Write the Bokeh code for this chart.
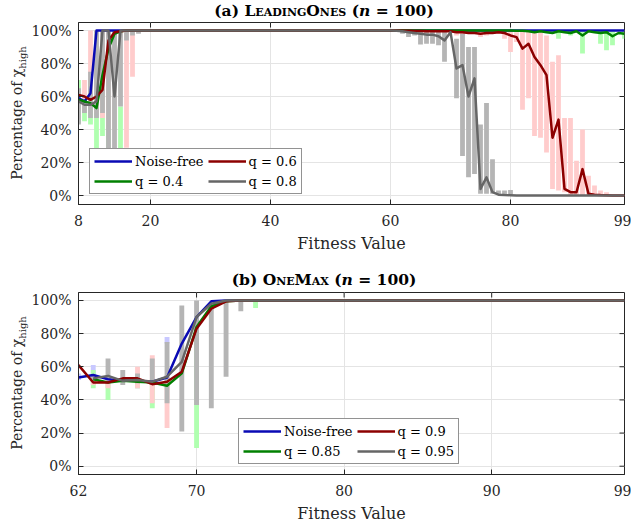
from bokeh.plotting import figure
from bokeh.models import (Range1d, FixedTicker, PrintfTickFormatter, Div, ColumnDataSource)
from bokeh.layouts import column, row
from bokeh.embed import file_html
from bokeh.resources import INLINE

NaN = float("nan")

# ---------------- (a) LeadingOnes (n = 100) ----------------
a_x = list(range(8, 100))
a_xticks = [8, 20, 40, 60, 80, 99]

a_noise_free = [
    59, 57, 62, 100, 100, 100, 100, 100, 100, 100,        # 8-17
    100, 100, 100, 100, 100, 100, 100, 100, 100, 100,     # 18-27
    100, 100, 100, 100, 100, 100, 100, 100, 100, 100,     # 28-37
    100, 100, 100, 100, 100, 100, 100, 100, 100, 100,     # 38-47
    100, 100, 100, 100, 100, 100, 100, 100, 100, 100,     # 48-57
    100, 100, 100, 100, 100, 100, 100, 100, 100, 100,     # 58-67
    100, 100, 100, 100, 100, 100, 100, 100, 100, 100,     # 68-77
    100, 100, 100, 100, 100, 100, 100, 100, 100, 100,     # 78-87
    100, 100, 100, 100, 100, 100, 100, 100, 100, 100,     # 88-97
    100, 100,                                             # 98-99
]
a_q04 = [
    58, 57, 56, 53, 73, 89, 98, 99.5, 100, 100,
    100, 100, 100, 100, 100, 100, 100, 100, 100, 100,
    100, 100, 100, 100, 100, 100, 100, 100, 100, 100,
    100, 100, 100, 100, 100, 100, 100, 100, 100, 100,
    100, 100, 100, 100, 100, 100, 100, 100, 100, 100,
    100, 100, 100, 100, 100, 100, 100, 100, 100, 100,
    100, 100, 100, 100, 100, 100, 100, 100, 100, 100,
    100, 100, 100, 99.8, 99.8, 99.5, 99, 99.5, 99, 98.5,
    99.5, 99, 98.5, 99.5, 97, 99.5, 99, 98.5, 99, 96.5,
    98.5, 98,
]
a_q06 = [
    61, 60, 58, 60, 64, 94, 99, 99.5, 100, 100,
    100, 100, 100, 100, 100, 100, 100, 100, 100, 100,
    100, 100, 100, 100, 100, 100, 100, 100, 100, 100,
    100, 100, 100, 100, 100, 100, 100, 100, 100, 100,
    100, 100, 100, 100, 100, 100, 100, 100, 100, 100,
    100, 100, 100, 100, 99.8, 99.8, 99.7, 99.7, 99.6, 99.6,
    99.5, 99.5, 99.5, 99, 99, 98.5, 98.5, 98, 98.5, 98.5,
    99, 98.5, 97, 96, 89, 92, 84, 79, 73, 35,
    46, 4, 2, 2, 16, 1, 0.5, 0.3, 0.2, 0,
    0, 0,
]
a_q08 = [
    57, 55, 55, 57, 100, 100, 60, 100, 100, 100,
    100, 100, 100, 100, 100, 100, 100, 100, 100, 100,
    100, 100, 100, 100, 100, 100, 100, 100, 100, 100,
    100, 100, 100, 100, 100, 100, 100, 100, 100, 100,
    100, 100, 100, 100, 100, 100, 100, 100, 100, 100,
    100, 100, 100, 99.8, 99.5, 99, 98.5, 98, 97.5, 97.5,
    96.5, 94, 99, 77, 79, 60, 71, 4, 11, 2,
    0.5, 0.3, 0.2, 0, 0, 0, 0, 0, 0, 0,
    0, 0, 0, 0, 0, 0, 0, 0, 0, 0,
    0, 0,
]

# spread bars (low / high) of each series, panel (a)
a_bar_nf_x = [8, 9, 10]
a_bar_nf_lo = [55, 52, 56]
a_bar_nf_hi = [62, 60, 66]

a_bar_q04_x = [8, 9, 10, 11, 12, 13, 15, 88, 90, 92, 95, 96, 97, 99]
a_bar_q04_lo = [44, 45, 43, 27, 36, 15, 15, 95, 97, 86, 92, 88, 91, 95]
a_bar_q04_hi = [70, 62, 72, 62, 85, 61, 54, 100, 100, 100, 100, 100, 100, 100]

a_bar_q06_x = [8, 9, 10, 11, 12, 13, 14, 16, 17, 71, 72, 75, 76,
               79, 80, 81, 82, 83, 84, 85, 86, 87, 88, 89, 90, 91, 92, 93, 94, 95, 96]
a_bar_q06_lo = [58, 52, 60, 50, 47, 40, 40, 29, 72, 97, 97, 96, 97,
                95, 87, 93, 52, 59, 36, 35, 26, 4, 3, 2, 0, 0, 0, 0, 0, 0, 0]
a_bar_q06_hi = [64, 70, 100, 100, 100, 100, 100, 100, 100, 100, 100, 100, 100,
                100, 100, 99, 100, 100, 99, 99, 97, 81, 85, 47, 47, 21, 40, 12, 6, 3, 2]

a_bar_q08_x = [8, 9, 10, 11, 12, 13, 14, 15, 16, 17, 18,
               62, 63, 64, 65, 66, 67, 68, 69,
               71, 72, 73, 74, 75, 76, 77, 78, 79, 80]
a_bar_q08_lo = [43, 50, 47, 47, 50, 20, 20, 54, 94, 97, 98,
                98, 96, 97, 91.5, 92, 92, 91, 81,
                59, 24, 11, 13, 1, 1, 1, 0.5, 0.5, 0.5]
a_bar_q08_hi = [65, 58, 75, 100, 100, 100, 100, 100, 100, 100, 100,
                100, 100, 100, 100, 100, 100, 100, 100,
                95, 98, 90, 90, 43, 56, 22, 3, 3, 3.4]

# ---------------- (b) OneMax (n = 100) ----------------
b_x = list(range(62, 100))
b_xticks = [62, 70, 80, 90, 99]

b_noise_free = [
    53.5, 55, 52.5, 51.5, 51.5, 51, 53.5, 74, 90, 99.5,   # 62-71
    100, 100, 100, 100, 100, 100, 100, 100, 100, 100,     # 72-81
    100, 100, 100, 100, 100, 100, 100, 100, 100, 100,     # 82-91
    100, 100, 100, 100, 100, 100, 100, 100,               # 92-99
]
b_q085 = [
    NaN, 52.5, 50.5, 51.5, 51, 50.5, 48.5, 56, 84, 96.5,
    99.5, 100, 100, 100, 100, 100, 100, 100, 100, 100,
    100, 100, 100, 100, 100, 100, 100, 100, 100, 100,
    100, 100, 100, 100, 100, 100, 100, 100,
]
b_q09 = [
    61, 50.5, 50.5, 53, 53, 49.5, 51, 57, 83, 95,
    99.5, 100, 100, 100, 100, 100, 100, 100, 100, 100,
    100, 100, 100, 100, 100, 100, 100, 100, 100, 100,
    100, 100, 100, 100, 100, 100, 100, 100,
]
b_q095 = [
    NaN, 53, 54.5, 51.5, 52, 51, 54, 63, 90, 98,
    100, 100, 100, 100, 100, 100, 100, 100, 100, 100,
    100, 100, 100, 100, 100, 100, 100, 100, 100, 100,
    100, 100, 100, 100, 100, 100, 100, 100,
]

b_bar_nf_x = [62, 63, 66, 68]
b_bar_nf_lo = [52, 55, 47, 74]
b_bar_nf_hi = [56, 61, 52, 78]

b_bar_q085_x = [63, 64, 66, 67, 70, 74]
b_bar_q085_lo = [47, 40, 47, 35, 11, 95.5]
b_bar_q085_hi = [58, 50, 51, 50, 90, 100]

b_bar_q09_x = [63, 64, 66, 67, 68]
b_bar_q09_lo = [49, 47, 47, 38, 23]
b_bar_q09_hi = [53, 53, 60, 67, 55]

b_bar_q095_x = [63, 64, 65, 66, 67, 68, 69, 70, 71, 72, 73, 76, 79]
b_bar_q095_lo = [51, 52, 49, 50, 49, 38, 21, 37, 35, 54, 93.5, 99, 99.5]
b_bar_q095_hi = [55, 65, 58, 56, 65, 75, 97, 100, 96, 100, 100, 100, 100]

y_ticks = [0, 20, 40, 60, 80, 100]

# ---------------- styling ----------------
FONT = "DejaVu Serif"
AX = "#262626"
GRID = "#e4e4e4"
LINE_COLORS = ["#0a0ab4", "#008000", "#8c0000", "#666666"]
BAR_COLORS = ["#c8c8ff", "#b0ffb0", "#ffcccc", "#b5b5b5"]
TOTAL_W = 631
YLAB_W = 28
FIG_W = TOTAL_W - YLAB_W
BORDER_L, BORDER_R, BORDER_T = 48, 7, 1
TICK_PX = 5


def make_panel(height, xr, yr, xticks, min_bottom):
    p = figure(width=FIG_W, height=height, output_backend="svg", toolbar_location=None,
               x_range=Range1d(*xr), y_range=Range1d(*yr),
               min_border_left=BORDER_L, min_border_right=BORDER_R,
               min_border_top=BORDER_T, min_border_bottom=min_bottom,
               background_fill_color="white", border_fill_color="white")
    p.outline_line_color = AX
    p.outline_line_width = 1
    p.xaxis.ticker = FixedTicker(ticks=xticks)
    p.yaxis.ticker = FixedTicker(ticks=y_ticks)
    p.yaxis.formatter = PrintfTickFormatter(format="%d%%")
    for ax in (p.xaxis[0], p.yaxis[0]):
        ax.axis_line_color = AX
        ax.major_tick_line_color = AX
        ax.major_tick_in = TICK_PX
        ax.major_tick_out = 0
        ax.minor_tick_in = 0
        ax.minor_tick_out = 0
        ax.major_label_text_font = FONT
        ax.major_label_text_font_size = "14px"
        ax.major_label_text_color = AX
    p.xaxis.major_label_standoff = 10
    p.yaxis.major_label_standoff = 7
    p.xaxis.axis_label = "Fitness Value"
    p.xaxis.axis_label_text_font = FONT
    p.xaxis.axis_label_text_font_size = "16px"
    p.xaxis.axis_label_text_font_style = "normal"
    p.xaxis.axis_label_text_color = AX
    p.xaxis.axis_label_standoff = 5
    p.xgrid.grid_line_color = GRID
    p.ygrid.grid_line_color = GRID
    p.xgrid.grid_line_width = 1
    p.ygrid.grid_line_width = 1

    # inward tick marks on the top and right edges of the box (derived from the tick lists)
    frame_w = FIG_W - BORDER_L - BORDER_R
    frame_h = height - BORDER_T - min_bottom
    dx = TICK_PX * (xr[1] - xr[0]) / frame_w
    dy = TICK_PX * (yr[1] - yr[0]) / frame_h
    inner_x = [t for t in xticks if xr[0] < t < xr[1]]
    p.segment(x0=inner_x, y0=[yr[1]] * len(inner_x), x1=inner_x,
              y1=[yr[1] - dy] * len(inner_x), line_color=AX, line_width=1)
    p.segment(x0=[xr[1]] * len(y_ticks), y0=y_ticks, x1=[xr[1] - dx] * len(y_ticks),
              y1=y_ticks, line_color=AX, line_width=1)
    return p


def draw(p, x, series, labels, bars, bar_w, lw):
    for (bx, lo, hi), col in zip(bars, BAR_COLORS):
        src = ColumnDataSource(dict(x=bx, lo=lo, hi=hi))
        p.vbar(x="x", bottom="lo", top="hi", width=bar_w, source=src,
               fill_color=col, line_color=None)
    for ys, lab, col in zip(series, labels, LINE_COLORS):
        src = ColumnDataSource(dict(x=x, y=ys))
        p.line("x", "y", source=src, line_color=col, line_width=lw,
               line_join="round", legend_label=lab)
    leg = p.legend[0]
    leg.ncols = 2
    leg.border_line_color = AX
    leg.border_line_width = 1
    leg.background_fill_color = "white"
    leg.background_fill_alpha = 1
    leg.label_text_font = FONT
    leg.label_text_font_size = "13px"
    leg.label_text_color = "#000000"
    leg.glyph_width = 38
    leg.glyph_height = 16
    leg.label_height = 16
    leg.label_standoff = 3
    leg.spacing = 4
    leg.padding = 4
    leg.margin = 0
    return leg


def title_div(html, height):
    style = ("font-family:'DejaVu Serif';font-weight:bold;font-size:15.5px;"
             "line-height:%dpx;text-align:center;width:%dpx;padding-left:17px;"
             "box-sizing:border-box;color:#000;white-space:nowrap;" % (height, TOTAL_W))
    return Div(text='<div style="%s">%s</div>' % (style, html),
               width=TOTAL_W, height=height, margin=0)


def ylabel_div(height, pad_left):
    inner = ("position:absolute;left:0;top:0;width:%dpx;height:%dpx;"
             "transform-origin:0 0;transform:translate(0px,%dpx) rotate(-90deg);"
             "box-sizing:border-box;padding-left:%dpx;padding-right:1px;"
             "text-align:center;white-space:nowrap;line-height:34px;"
             "font-family:'DejaVu Serif';font-size:14px;color:%s;"
             % (height, YLAB_W, height, pad_left, AX))
    html = ('<div style="position:relative;width:%dpx;height:%dpx;">'
            '<div style="%s">Percentage of χ<sub style="font-size:10px;line-height:0;">high</sub>'
            '</div></div>' % (YLAB_W, height, inner))
    return Div(text=html, width=YLAB_W, height=height, margin=0)


# panel (a)
HA = 247
pa = make_panel(HA, (8, 99), (-5.45, 104.85), a_xticks, 64)
leg_a = draw(pa, a_x, [a_noise_free, a_q04, a_q06, a_q08],
             ["Noise-free", "q = 0.4", "q = 0.6", "q = 0.8"],
             [(a_bar_nf_x, a_bar_nf_lo, a_bar_nf_hi),
              (a_bar_q04_x, a_bar_q04_lo, a_bar_q04_hi),
              (a_bar_q06_x, a_bar_q06_lo, a_bar_q06_hi),
              (a_bar_q08_x, a_bar_q08_lo, a_bar_q08_hi)], 0.8, 2.5)
leg_a.location = (11, 10)

# panel (b)
HB = 238
pb = make_panel(HB, (62, 99), (-5.0, 104.8), b_xticks, 55)
leg_b = draw(pb, b_x, [b_noise_free, b_q085, b_q09, b_q095],
             ["Noise-free", "q = 0.85", "q = 0.9", "q = 0.95"],
             [(b_bar_nf_x, b_bar_nf_lo, b_bar_nf_hi),
              (b_bar_q085_x, b_bar_q085_lo, b_bar_q085_hi),
              (b_bar_q09_x, b_bar_q09_lo, b_bar_q09_hi),
              (b_bar_q095_x, b_bar_q095_lo, b_bar_q095_hi)], 0.33, 2.5)
leg_b.location = (160, 10)

ta = title_div('(a) <span style="font-variant:small-caps">LeadingOnes</span> (<i>n</i> = 100)', 21)
tb = title_div('(b) <span style="font-variant:small-caps">OneMax</span> (<i>n</i> = 100)', 23)

layout = column(ta, row(ylabel_div(HA, 64), pa, spacing=0), tb,
                row(ylabel_div(HB, 55), pb, spacing=0), spacing=0)

open("out.html", "w").write(file_html(layout, INLINE))
